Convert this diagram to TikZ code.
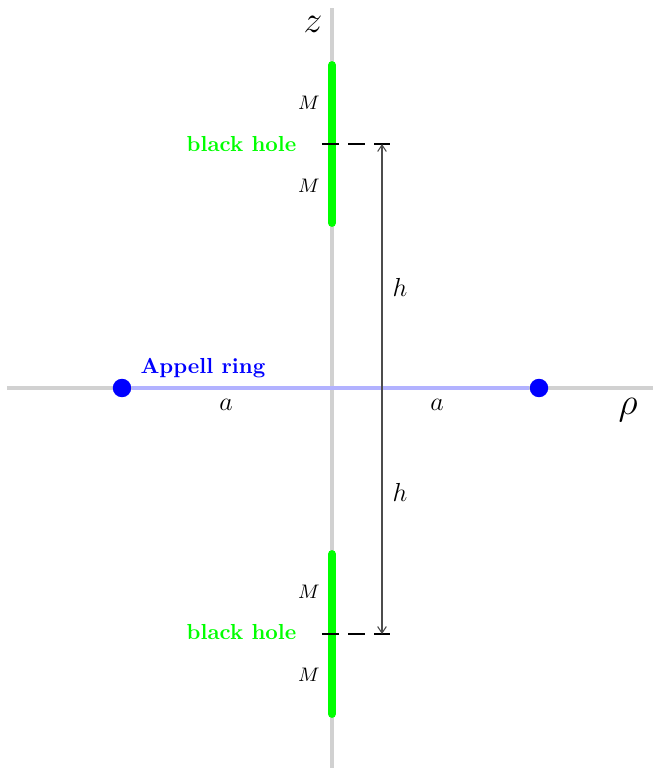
\documentclass[tikz,border=0pt]{standalone}
\usetikzlibrary{arrows.meta}
\begin{document}
\begin{tikzpicture}[x=0.46pt,y=-0.46pt,
  axis/.style={line width=1.5pt,black!18},
  rod/.style={line width=3.6pt,green,line cap=round},
  ringline/.style={line width=1.5pt,blue!30},
  dot/.style={circle,fill=blue,inner sep=0pt,minimum size=8.5pt},
  dashline/.style={line width=0.9pt,dash pattern=on 8pt off 4pt},
  dim/.style={line width=0.5pt,black!70,{Straight Barb[length=3pt,width=4pt]}-{Straight Barb[length=3pt,width=4pt]}},
  lbl/.style={inner sep=1pt,font=\large},
  mlbl/.style={inner sep=1pt,font=\small},
  bhlbl/.style={inner sep=1pt,text=green,font=\bfseries},
]
\useasboundingbox (0,0) rectangle (653,768);
% axes
\coordinate (zt) at (332,8);
\coordinate (zb) at (332,768);
\coordinate (rl) at (7,388);
\coordinate (rr) at (653,388);
\draw[axis] (zt) -- (zb);
\draw[axis] (rl) -- (rr);
% ring
\node[dot] (d1) at (122,388) {};
\node[dot] (d2) at (539,388) {};
\draw[ringline] (d1) -- (d2);
% rods
\coordinate (t1) at (332,65);
\coordinate (t2) at (332,223);
\coordinate (b1) at (332,554);
\coordinate (b2) at (332,714);
\draw[rod] (t1) -- (t2);
\draw[rod] (b1) -- (b2);
% dashed lines
\coordinate (dt1) at (322,144);
\coordinate (dt2) at (390,144);
\coordinate (db1) at (322,634);
\coordinate (db2) at (390,634);
\draw[dashline] (dt1) -- (dt2);
\draw[dashline] (db1) -- (db2);
% dimension arrow
\coordinate (at) at (382,144);
\coordinate (ab) at (382,634);
\draw[dim] (at) -- (ab);
% labels
\node[inner sep=1pt,font=\LARGE] (zl) at (313,24) {$z$};
\node[inner sep=1pt,font=\LARGE] (rhol) at (628,410) {$\rho$};
\node[lbl] (h1) at (400,287) {$h$};
\node[lbl] (h2) at (400,492) {$h$};
\node[lbl] (a1) at (226,405) {$a$};
\node[lbl] (a2) at (437,405) {$a$};
\node[inner sep=1pt,text=blue,font=\bfseries,anchor=west] (appl) at (138,368) {Appell ring};
\node[bhlbl,anchor=east] (bh1) at (299,144) {black hole};
\node[bhlbl,anchor=east] (bh2) at (299,632) {black hole};
\node[mlbl] (m1) at (309,103) {$M$};
\node[mlbl] (m2) at (309,186) {$M$};
\node[mlbl] (m3) at (309,592) {$M$};
\node[mlbl] (m4) at (309,675) {$M$};
\end{tikzpicture}
\end{document}
